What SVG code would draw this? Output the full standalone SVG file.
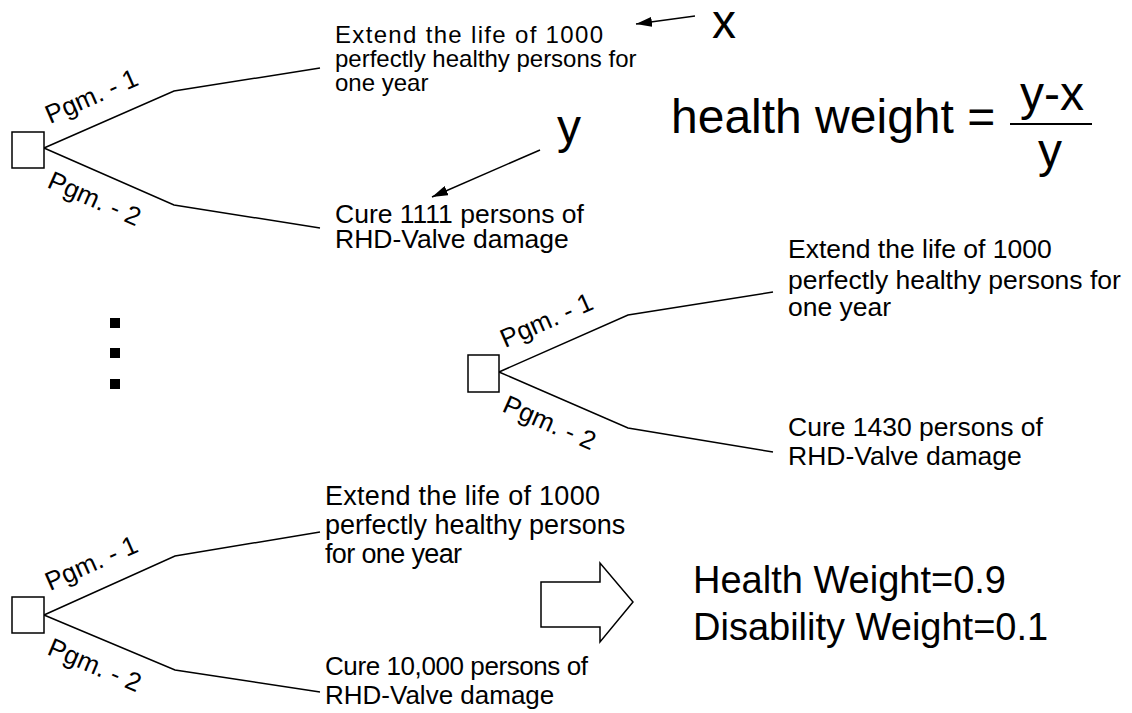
<svg xmlns="http://www.w3.org/2000/svg" width="1132" height="713" viewBox="0 0 1132 713">
<defs>
<style>
.t{font-family:"Liberation Sans",Arial,sans-serif;fill:#000}
.s24{font-size:24px}
.s26{font-size:26px}
.s265{font-size:26.5px}
.s27{font-size:27px}
.pg{font-size:26px}
.big{font-size:48px}
.hw{font-size:38px}
.ln{fill:none;stroke:#000;stroke-width:1.5}
.box{fill:#fff;stroke:#000;stroke-width:1.5}
</style>
<marker id="ah" viewBox="0 0 16 10" refX="16" refY="5" markerWidth="16" markerHeight="10" markerUnits="userSpaceOnUse" orient="auto">
<path d="M0,0 L16,5 L0,10 Z" fill="#000"/>
</marker>
</defs>
<rect width="1132" height="713" fill="#fff"/>

<g id="connectors">
<path class="ln" d="M44,148 L174,91 L320,68"/>
<path class="ln" d="M44,148 L174,205 L320,228"/>
<path class="ln" d="M499,372 L628,315 L773,292"/>
<path class="ln" d="M499,372 L628,428 L773,452"/>
<path class="ln" d="M44,615 L175,556 L320,532"/>
<path class="ln" d="M44,615 L175,670 L320,692"/>
<line class="ln" x1="695" y1="16" x2="636" y2="24" marker-end="url(#ah)"/>
<line class="ln" x1="540" y1="150" x2="432" y2="197" marker-end="url(#ah)"/>
</g>

<g id="tree1">
<rect class="box" x="12" y="132" width="32" height="36"/>
<text class="t pg" transform="translate(50 124) rotate(-23.7)">Pgm. - 1</text>
<text class="t pg" transform="translate(46 187) rotate(23.7)">Pgm. - 2</text>
</g>
<g id="t1-opt1">
<text class="t s24" x="335" y="43" textLength="268" lengthAdjust="spacing">Extend the life of 1000</text>
<text class="t s24" x="335" y="67">perfectly healthy persons for</text>
<text class="t s24" x="335" y="91">one year</text>
</g>
<g id="t1-opt2">
<text class="t s265" x="335" y="223">Cure 1111 persons of</text>
<text class="t s265" x="335" y="248">RHD-Valve damage</text>
</g>
<g id="label-x"><text class="t big" x="712" y="38">x</text></g>
<g id="label-y"><text class="t big" x="557" y="143">y</text></g>
<g id="formula">
<text class="t big" x="671" y="133">health weight =</text>
<text class="t big" x="1052" y="110" text-anchor="middle">y-x</text>
<line x1="1010" y1="124" x2="1092" y2="124" stroke="#000" stroke-width="2"/>
<text class="t big" x="1050" y="167" text-anchor="middle">y</text>
</g>

<g id="dots">
<rect x="110" y="318" width="10" height="10" fill="#000"/>
<rect x="110" y="348" width="10" height="10" fill="#000"/>
<rect x="110" y="379" width="10" height="10" fill="#000"/>
</g>

<g id="tree2">
<rect class="box" x="468" y="355" width="31" height="37"/>
<text class="t pg" transform="translate(505 348) rotate(-23.7)">Pgm. - 1</text>
<text class="t pg" transform="translate(501 411) rotate(23.7)">Pgm. - 2</text>
</g>
<g id="t2-opt1">
<text class="t s265" x="788" y="258">Extend the life of 1000</text>
<text class="t s265" x="788" y="289">perfectly healthy persons for</text>
<text class="t s265" x="788" y="316">one year</text>
</g>
<g id="t2-opt2">
<text class="t s265" x="788" y="436">Cure 1430 persons of</text>
<text class="t s265" x="788" y="465">RHD-Valve damage</text>
</g>

<g id="tree3">
<rect class="box" x="12" y="597" width="32" height="36"/>
<text class="t pg" transform="translate(50 591) rotate(-24)">Pgm. - 1</text>
<text class="t pg" transform="translate(46 654) rotate(23)">Pgm. - 2</text>
</g>
<g id="t3-opt1">
<text class="t s27" x="325" y="505" textLength="275" lengthAdjust="spacing">Extend the life of 1000</text>
<text class="t s27" x="325" y="534">perfectly healthy persons</text>
<text class="t s27" x="325" y="563" textLength="137" lengthAdjust="spacing">for one year</text>
</g>
<g id="t3-opt2">
<text class="t s26" x="325" y="675" textLength="263" lengthAdjust="spacing">Cure 10,000 persons of</text>
<text class="t s26" x="325" y="704">RHD-Valve damage</text>
</g>

<g id="block-arrow">
<path d="M541,582 L600,582 L600,563 L633,602 L600,642 L600,627 L541,627 Z" fill="#fff" stroke="#000" stroke-width="1.5"/>
</g>
<g id="result">
<text class="t hw" x="693" y="593">Health Weight=0.9</text>
<text class="t hw" x="693" y="640">Disability Weight=0.1</text>
</g>
</svg>
